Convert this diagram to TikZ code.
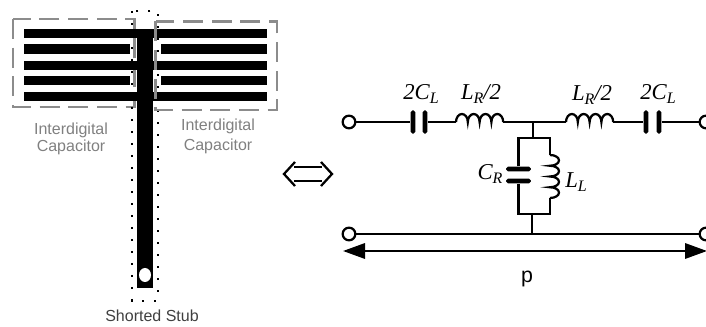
\documentclass[tikz,border=0pt]{standalone}
\usepackage{fontspec}
\setmainfont{Liberation Sans}
\newfontfamily\timesfont{Liberation Serif}
\usetikzlibrary{arrows.meta}
\newcommand{\cirlabel}[2]{{\timesfont\itshape\fontsize{17}{17}\selectfont #1\raisebox{-3.5pt}{\fontsize{12}{12}\selectfont #2}}}

\begin{document}
\begin{tikzpicture}[x=0.75pt,y=-0.75pt,
    wire/.style={line width=1.7pt},
    terminal/.style={circle,draw,line width=1.7pt,fill=white,minimum size=9.5pt,inner sep=0pt},
    vplate/.style={rectangle,fill=black,rounded corners=1.4pt,minimum width=3.6pt,minimum height=17.5pt,inner sep=0pt},
    hplate/.style={rectangle,fill=black,rounded corners=1.4pt,minimum width=18.5pt,minimum height=3.6pt,inner sep=0pt},
    capbox/.style={draw=black!45,line width=2.2pt,dash pattern=on 15pt off 6.5pt},
    graytext/.style={text=black!50,font=\fontsize{12}{12}\selectfont,align=center}
    ]
\useasboundingbox (0,0) rectangle (706,327);
% layout
\draw[capbox] (13,19) rectangle (134.5,107);
\draw[line width=1.5pt,dash pattern=on 1.5pt off 7.5pt] (132,11) rectangle (157.5,300.7);
\foreach \ya/\yb in {29.5/38.5,61/70,92/101} {
  \fill (24,\ya) rectangle (267,\yb);
}
\foreach \ya/\yb in {44.5/54,76/85.5} {
  \fill (24,\ya) rectangle (130,\yb);
  \fill (161,\ya) rectangle (267,\yb);
}
\fill (136.7,29.5) rectangle (153.3,288);
\fill[white] (145,275) ellipse (6 and 7);
\draw[capbox] (155.5,21.5) rectangle (277,110);
\node[graytext] (idcl) at (71,139) {Interdigital\\[1pt]Capacitor};
\node[graytext] (idcr) at (218,136) {Interdigital\\[3pt]Capacitor};
\node[text=black!75,font=\fontsize{12}{12}\selectfont] (stub) at (152,316) {Shorted Stub};
% equivalence
\draw[wire] (294,167) -- (322,167) (294,181) -- (322,181);
\draw[wire] (295,162) -- (284,174) -- (295,186) (321,162) -- (332,174) -- (321,186);
% circuit
\node[terminal] (tl) at (349,122) {};
\node[terminal] (tr) at (706,122) {};
\node[terminal] (bl) at (349,234) {};
\node[terminal] (br) at (706,234) {};
\node[vplate] (c1a) at (413,122) {};
\node[vplate] (c1b) at (425,122) {};
\node[vplate] (c2a) at (646,122) {};
\node[vplate] (c2b) at (659,122) {};
\coordinate (l1a) at (456,122);
\coordinate (l1b) at (503,122);
\coordinate (l2a) at (566,122);
\coordinate (l2b) at (613,122);
\coordinate (top) at (533,122);
\coordinate (tanktop) at (533,138);
\coordinate (tankl) at (518,138);
\coordinate (tankr) at (550,138);
\node[hplate] (crt) at (518.5,169) {};
\node[hplate] (crb) at (518.5,181) {};
\coordinate (lla) at (550,155);
\coordinate (llb) at (550,198);
\coordinate (tankbl) at (518,214);
\coordinate (tankbr) at (550,214);
\coordinate (tankbot) at (532,214);
\coordinate (bot) at (532,234);
\draw[wire] (tl) -- (c1a);
\draw[wire] (c1b) -- (l1a);
\draw[wire] (l1a) arc (180:360:5.9 and 8) arc (180:360:5.9 and 8) arc (180:360:5.9 and 8) arc (180:360:5.9 and 8);
\draw[wire] (l1b) -- (l2a);
\draw[wire] (l2a) arc (180:360:5.9 and 8) arc (180:360:5.9 and 8) arc (180:360:5.9 and 8) arc (180:360:5.9 and 8);
\draw[wire] (l2b) -- (c2a);
\draw[wire] (c2b) -- (tr);
\draw[wire] (top) -- (tanktop);
\draw[wire] (crt) -- (crt|-tankl) -- (tankr) -- (lla);
\draw[wire] (lla) arc (-90:90:9 and 5.375) arc (-90:90:9 and 5.375) arc (-90:90:9 and 5.375) arc (-90:90:9 and 5.375);
\draw[wire] (llb) -- (tankbr) -- (crb|-tankbl) -- (crb);
\draw[wire] (tankbot) -- (bot);
\draw[wire] (bl) -- (br);
\coordinate (pl) at (343,251);
\coordinate (pr) at (707,251);
\draw[wire,{Triangle[length=16.5pt,width=11.5pt]}-{Triangle[length=16.5pt,width=11.5pt]}] (pl) -- (pr);
\node (lbl1) at (421,94) {\cirlabel{2C}{L}};
\node (lbl2) at (481,94) {\cirlabel{L}{R}\cirlabel{/2}{}};
\node (lbl3) at (592,95) {\cirlabel{L}{R}\cirlabel{/2}{}};
\node (lbl4) at (658,94) {\cirlabel{2C}{L}};
\node (lbl5) at (490,174) {\cirlabel{C}{R}};
\node (lbl6) at (576,182) {\cirlabel{L}{L}};
\node[font=\fontsize{16}{16}\selectfont] (plabel) at (527,279) {p};
\end{tikzpicture}
\end{document}
